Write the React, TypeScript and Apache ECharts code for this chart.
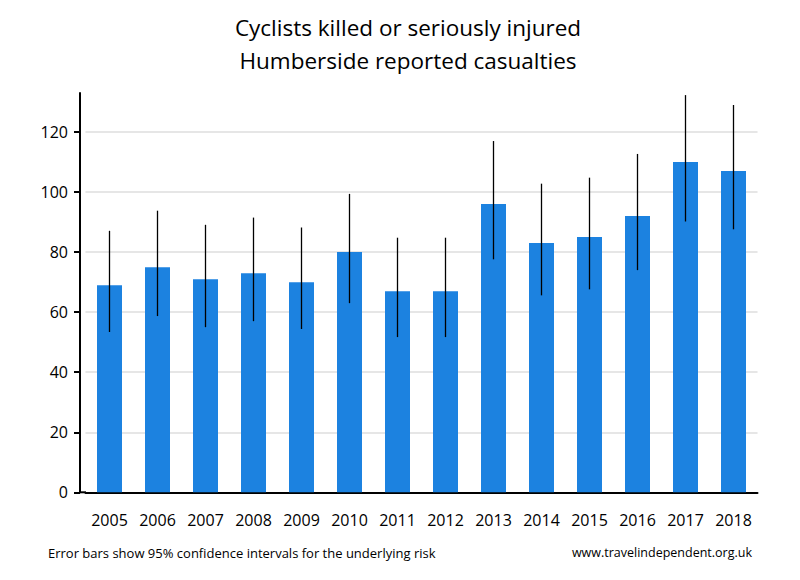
import React, { useEffect, useRef } from "react";
import * as echarts from "echarts";

const years = ["2005","2006","2007","2008","2009","2010","2011","2012","2013","2014","2015","2016","2017","2018"];
const casualties = [69, 75, 71, 73, 70, 80, 67, 67, 96, 83, 85, 92, 110, 107];
const lowerCI = [53.4, 58.7, 55.0, 57.0, 54.4, 63.0, 51.7, 51.7, 77.6, 65.6, 67.6, 74.0, 90.2, 87.6];
const upperCI = [87.1, 93.8, 89.1, 91.5, 88.2, 99.4, 84.8, 84.8, 117.0, 102.8, 104.8, 112.7, 132.3, 129.0];

const FONT = "Open Sans";

export default function App() {
  const ref = useRef<HTMLDivElement>(null);
  useEffect(() => {
    if (!ref.current) return;
    const chart = echarts.init(ref.current, undefined, { renderer: "svg" });
    chart.setOption({
      animation: false,
      backgroundColor: "#ffffff",
      title: {
        text: "Cyclists killed or seriously injured\nHumberside reported casualties",
        left: "center",
        top: -2,
        textStyle: { fontFamily: FONT, fontSize: 22.5, fontWeight: "normal", color: "#000", lineHeight: 33 },
      },
      grid: { left: 77.5, right: 50.5, top: 85, bottom: 95.7, containLabel: false },
      xAxis: {
        type: "category",
        data: years,
        axisLine: { lineStyle: { color: "#000", width: 2 } },
        axisTick: { show: false },
        axisLabel: { fontFamily: FONT, fontSize: 16, color: "#000", margin: 20 },
      },
      yAxis: {
        type: "value",
        min: 0,
        max: 133,
        interval: 20,
        offset: 5.5,
        axisLine: { show: true, lineStyle: { color: "#000", width: 2 } },
        axisTick: { show: true, length: 6, lineStyle: { color: "#000", width: 2 } },
        axisLabel: {
          fontFamily: FONT, fontSize: 16, color: "#000", margin: 12,
          showMaxLabel: false,
          formatter: (v: number) => (v % 20 === 0 ? String(v) : ""),
        },
        splitLine: { show: true, showMaxLine: false, lineStyle: { color: "#e6e6e6", width: 2 } },
      },
      series: [
        {
          type: "bar",
          data: casualties,
          barWidth: 25,
          itemStyle: { color: "#1c82e0" },
        },
        {
          type: "custom",
          data: years.map((_, i) => [i, lowerCI[i], upperCI[i]]),
          encode: { x: 0, y: [1, 2] },
          z: 10,
          renderItem: (params: any, api: any) => {
            const i = api.value(0);
            const lo = api.coord([i, api.value(1)]);
            const hi = api.coord([i, api.value(2)]);
            return {
              type: "line",
              shape: { x1: lo[0], y1: lo[1], x2: hi[0], y2: hi[1] },
              style: { stroke: "#000", lineWidth: 1.3 },
            };
          },
        },
      ],
      graphic: [
        {
          type: "line",
          shape: { x1: 71, y1: 484.3, x2: 78, y2: 484.3 },
          style: { stroke: "#000", lineWidth: 2 },
        },
        {
          type: "text",
          left: 40,
          top: 538,
          style: { text: "Error bars show 95% confidence intervals for the underlying risk", fontFamily: FONT, fontSize: 13, fill: "#000" },
        },
        {
          type: "text",
          right: 56,
          top: 538,
          style: { text: "www.travelindependent.org.uk", fontFamily: FONT, fontSize: 12.5, fill: "#000" },
        },
      ],
    });
    return () => chart.dispose();
  }, []);
  return <div ref={ref} style={{ width: 800, height: 580 }} />;
}
